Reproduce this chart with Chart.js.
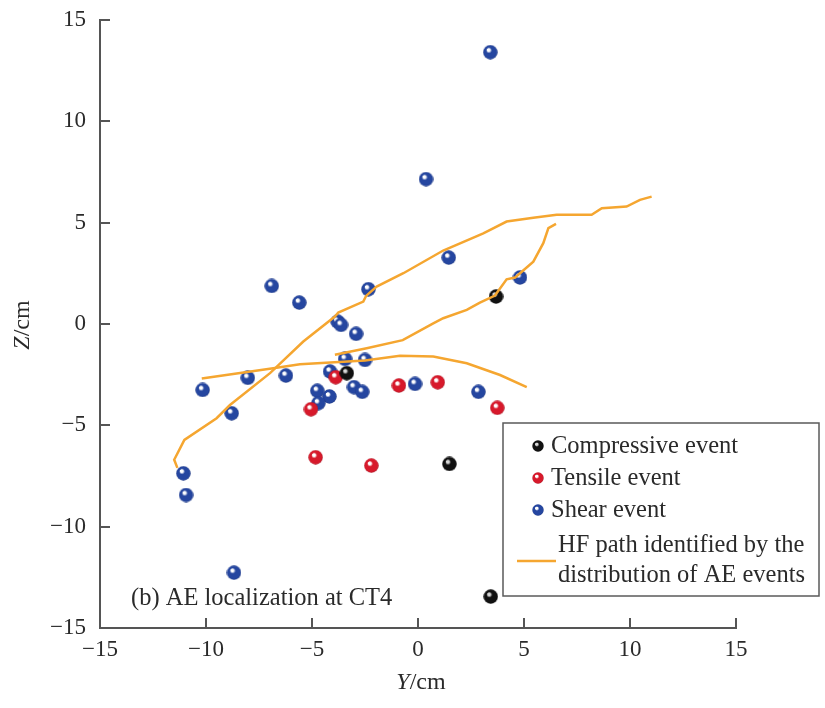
<!DOCTYPE html>
<html>
<head>
<meta charset="utf-8">
<script src="https://cdn.jsdelivr.net/npm/chart.js@4/dist/chart.umd.min.js"></script>
<style>
  html, body { margin: 0; padding: 0; background: #fff; }
  #wrap { width: 825px; height: 708px; position: relative; }
</style>
</head>
<body>
<div id="wrap"><canvas id="myChart" width="825" height="708"></canvas></div>
<script>
// AE event locations (Y, Z in cm)
var compressiveY = [3.68, -3.36, 1.48, 3.43];
var compressiveZ = [1.35, -2.43, -6.91, -13.45];

var tensileY = [-3.88, -5.05, -0.90, 0.93, 3.74, -4.83, -2.20];
var tensileZ = [-2.63, -4.21, -3.04, -2.88, -4.14, -6.58, -6.99];

var shearY = [3.41, 0.38, -6.90, -5.60, -2.34, 1.45, 4.81, -3.79, -3.63, -2.92,
              -3.44, -2.50, -4.15, -6.23, -8.03, -10.16, -4.75, -4.18, -4.70, -3.02,
              -2.63, -8.79, -0.14, 2.85, -11.07, -10.94, -8.68];
var shearZ = [13.40, 7.14, 1.87, 1.05, 1.71, 3.27, 2.29, 0.11, -0.05, -0.49,
              -1.73, -1.78, -2.35, -2.55, -2.66, -3.26, -3.30, -3.58, -3.91, -3.12,
              -3.35, -4.41, -2.96, -3.35, -7.37, -8.44, -12.27];

// HF paths traced through the event cloud
var pathAY = [-11.35, -11.5, -11.02, -9.5, -8.87, -6.98, -5.41, -3.92, -3.76, -2.58, -2.45,
              -1.95, -0.69, 1.19, 3.08, 4.18, 5.44, 6.54, 8.19, 8.67, 9.84, 10.47, 11.02];
var pathAZ = [-7.1, -6.7, -5.72, -4.65, -4.0, -2.43, -0.87, 0.36, 0.56, 1.10, 1.38,
              1.84, 2.50, 3.62, 4.47, 5.05, 5.24, 5.38, 5.38, 5.71, 5.79, 6.12, 6.28];

var pathBY = [-3.92, -2.42, -0.72, 0.72, 1.19, 2.30, 2.92, 3.63, 4.18, 4.58, 5.44, 5.91, 6.15, 6.51];
var pathBZ = [-1.52, -1.20, -0.80, 0.03, 0.28, 0.69, 1.05, 1.40, 2.20, 2.29, 3.07, 3.98, 4.72, 4.93];

var pathCY = [-10.2, -6.83, -5.57, -2.5, -0.85, 0.72, 2.3, 3.87, 5.13];
var pathCZ = [-2.69, -2.19, -1.99, -1.8, -1.57, -1.61, -1.94, -2.52, -3.12];

var axisTicks = [-15, -10, -5, 0, 5, 10, 15];

var SERIF = '"Liberation Serif", "Times New Roman", serif';
var PATH_COLOR = '#f5a630';
var AXIS_COLOR = '#555555';
var TEXT_COLOR = '#2a2a2a';

function pairs(xs, ys) {
  var out = [];
  for (var i = 0; i < xs.length; i++) out.push({x: xs[i], y: ys[i]});
  return out;
}

// little shaded sphere used as the marker
function makeBall(size, base, dark, shine) {
  var c = document.createElement('canvas');
  c.width = size; c.height = size;
  var g = c.getContext('2d');
  var r = size / 2;
  var grad = g.createRadialGradient(r * 0.72, r * 0.62, 0, r, r, r);
  grad.addColorStop(0, shine);
  grad.addColorStop(0.2, shine);
  grad.addColorStop(0.38, base);
  grad.addColorStop(0.85, base);
  grad.addColorStop(1, dark);
  g.fillStyle = grad;
  g.beginPath();
  g.arc(r, r, r - 0.3, 0, Math.PI * 2);
  g.fill();
  return c;
}

var ballBlack = makeBall(15, '#111111', '#000000', '#d8d8d8');
var ballRed = makeBall(15, '#d7192b', '#9c0f1c', '#ffffff');
var ballBlue = makeBall(15, '#2546a0', '#17307a', '#ffffff');
var ballBlackS = makeBall(12, '#111111', '#000000', '#d8d8d8');
var ballRedS = makeBall(12, '#d7192b', '#9c0f1c', '#ffffff');
var ballBlueS = makeBall(12, '#2546a0', '#17307a', '#ffffff');

function pathSet(xs, ys) {
  return {
    data: pairs(xs, ys),
    showLine: true,
    borderColor: PATH_COLOR,
    borderWidth: 2.5,
    pointRadius: 0,
    tension: 0,
    fill: false,
    order: 0
  };
}

function eventSet(label, xs, ys, img, ord) {
  return {
    label: label,
    data: pairs(xs, ys),
    pointStyle: img,
    pointRadius: 7,
    showLine: false,
    order: ord
  };
}

function minusSign(v) {
  return String(v).replace('-', '\u2212');
}

// ticks point inward, titles and the legend box are drawn by hand
var decorations = {
  id: 'decorations',
  afterDraw: function (chart) {
    var ctx = chart.ctx;
    var area = chart.chartArea;
    var xs = chart.scales.x, ys = chart.scales.y;
    ctx.save();

    ctx.strokeStyle = AXIS_COLOR;
    ctx.lineWidth = 2;
    axisTicks.forEach(function (v) {
      var px = Math.round(xs.getPixelForValue(v));
      ctx.beginPath();
      ctx.moveTo(px, area.bottom);
      ctx.lineTo(px, area.bottom - 10);
      ctx.stroke();
      var py = Math.round(ys.getPixelForValue(v));
      ctx.beginPath();
      ctx.moveTo(area.left, py);
      ctx.lineTo(area.left + 10, py);
      ctx.stroke();
    });

    // axis titles with italic variable names
    ctx.fillStyle = TEXT_COLOR;
    ctx.textBaseline = 'middle';
    function mixedTitle(v, rest, cx, cy, rot) {
      ctx.save();
      ctx.translate(cx, cy);
      ctx.rotate(rot);
      ctx.font = 'italic 24px ' + SERIF;
      var w1 = ctx.measureText(v).width;
      ctx.font = '24px ' + SERIF;
      var w2 = ctx.measureText(rest).width;
      var x0 = -(w1 + w2) / 2;
      ctx.textAlign = 'left';
      ctx.font = 'italic 24px ' + SERIF;
      ctx.fillText(v, x0, 0);
      ctx.font = '24px ' + SERIF;
      ctx.fillText(rest, x0 + w1, 0);
      ctx.restore();
    }
    mixedTitle('Y', '/cm', 421, 683, 0);
    mixedTitle('Z', '/cm', 23, 325, -Math.PI / 2);

    // panel note
    ctx.font = '24.5px ' + SERIF;
    ctx.textAlign = 'left';
    ctx.textBaseline = 'alphabetic';
    ctx.fillText('(b) AE localization at CT4', 131, 605);

    // legend box
    var bx = 503, by = 423, bw = 316, bh = 173;
    ctx.fillStyle = '#ffffff';
    ctx.fillRect(bx, by, bw, bh);
    ctx.strokeStyle = '#5a5a5a';
    ctx.lineWidth = 1.5;
    ctx.strokeRect(bx, by, bw, bh);

    var rows = [
      {img: ballBlackS, text: 'Compressive event', y: 446},
      {img: ballRedS, text: 'Tensile event', y: 478},
      {img: ballBlueS, text: 'Shear event', y: 510}
    ];
    ctx.font = '24.5px ' + SERIF;
    ctx.fillStyle = TEXT_COLOR;
    ctx.textBaseline = 'middle';
    rows.forEach(function (r) {
      ctx.drawImage(r.img, 538 - r.img.width / 2, r.y - r.img.height / 2);
      ctx.fillText(r.text, 551, r.y + 1);
    });
    ctx.strokeStyle = PATH_COLOR;
    ctx.lineWidth = 2.5;
    ctx.beginPath();
    ctx.moveTo(517, 561);
    ctx.lineTo(556, 561);
    ctx.stroke();
    ctx.fillText('HF path identified by the', 558, 546);
    ctx.fillText('distribution of AE events', 558, 576);

    ctx.restore();
  }
};

var ctx = document.getElementById('myChart').getContext('2d');
var myChart = new Chart(ctx, {
  type: 'scatter',
  data: {
    datasets: [
      pathSet(pathAY, pathAZ),
      pathSet(pathBY, pathBZ),
      pathSet(pathCY, pathCZ),
      eventSet('Compressive event', compressiveY, compressiveZ, ballBlack, 1),
      eventSet('Tensile event', tensileY, tensileZ, ballRed, 2),
      eventSet('Shear event', shearY, shearZ, ballBlue, 3)
    ]
  },
  options: {
    responsive: false,
    animation: false,
    events: [],
    clip: false,
    layout: {
      padding: {top: 15, right: 89, left: 0, bottom: 0}
    },
    plugins: {
      legend: {display: false},
      tooltip: {enabled: false}
    },
    scales: {
      x: {
        type: 'linear',
        min: -15,
        max: 15,
        afterBuildTicks: function (scale) {
          scale.ticks = axisTicks.map(function (v) { return {value: v}; });
        },
        afterFit: function (scale) { scale.height = 80; },
        grid: {display: false},
        border: {display: true, color: AXIS_COLOR, width: 2},
        ticks: {
          color: TEXT_COLOR,
          font: {family: SERIF, size: 23},
          padding: 0,
          maxRotation: 0,
          callback: function (value) { return minusSign(value); }
        }
      },
      y: {
        type: 'linear',
        min: -15,
        max: 15,
        afterBuildTicks: function (scale) {
          scale.ticks = axisTicks.map(function (v) { return {value: v}; });
        },
        afterFit: function (scale) { scale.width = 100; },
        grid: {display: false},
        border: {display: true, color: AXIS_COLOR, width: 2},
        ticks: {
          color: TEXT_COLOR,
          font: {family: SERIF, size: 23},
          padding: 6,
          callback: function (value) { return minusSign(value); }
        }
      }
    }
  },
  plugins: [decorations]
});
</script>
</body>
</html>
